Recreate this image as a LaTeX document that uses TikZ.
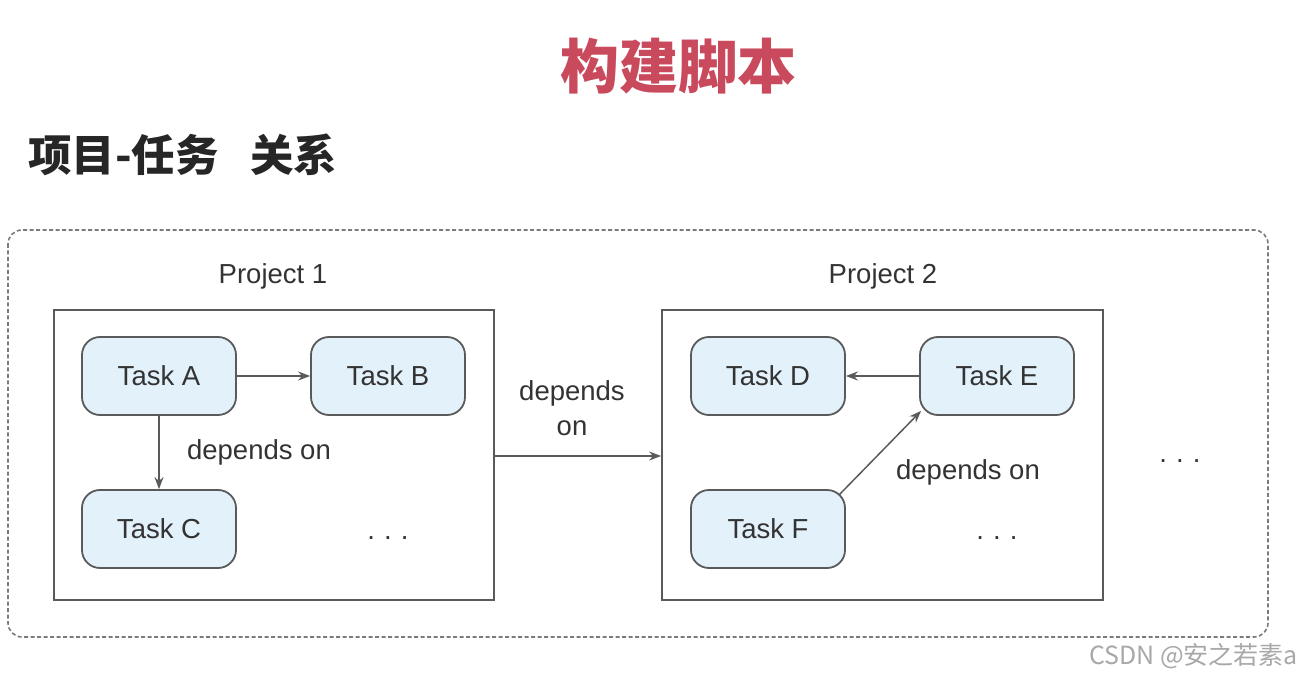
\documentclass[tikz,border=0pt]{standalone}
\usepackage{fontspec}
\setmainfont{Liberation Sans}
\newfontfamily\cjk{Noto Sans CJK SC}
\usetikzlibrary{arrows.meta,calc}
\definecolor{titlered}{HTML}{C94A5C}
\definecolor{taskfill}{HTML}{E3F1FB}
\definecolor{linegray}{HTML}{5A5A5A}
\definecolor{txtgray}{HTML}{333333}
\definecolor{wmgray}{HTML}{A8A8A8}
\tikzset{
  taskbox/.style={draw=linegray, line width=1.8pt, fill=taskfill, rounded corners=18pt,
    minimum width=154pt, minimum height=78pt, inner sep=0pt, text=txtgray,
    font=\fontsize{27.5}{32}\selectfont},
  projbox/.style={draw=linegray, line width=1.8pt},
  lbl/.style={text=txtgray, font=\fontsize{27.5}{34}\selectfont, inner sep=0pt, align=center},
  dep/.style={draw=linegray, line width=1.5pt, -{Stealth[length=12pt,width=9pt]}}
}
\begin{document}
\begin{tikzpicture}[x=1pt,y=-1pt]
\useasboundingbox (0,0) rectangle (1302,676);
\fill[white] (0,0) rectangle (1302,676);
% titles
\node[text=titlered, inner sep=0pt] (title) at (678,66) {\cjk\bfseries\fontsize{59}{64}\selectfont 构建脚本};
\node[anchor=west, text=black!85, inner sep=0pt] (sub) at (28,155) {\cjk\bfseries\fontsize{43.5}{48}\selectfont 项目-任务\hspace{0.72em}关系};
% outer dashed frame
\draw[linegray!80, line width=1.6pt, dash pattern=on 4pt off 2.5pt, rounded corners=14pt] (8,230) rectangle (1268,637);
% projects
\node[lbl] (p1lbl) at (273,276) {Project 1};
\node[lbl] (p2lbl) at (883,276) {Project 2};
\node[projbox, minimum width=440pt, minimum height=290pt, inner sep=0pt] (P1) at (274,455) {};
\node[projbox, minimum width=441pt, minimum height=290pt, inner sep=0pt] (P2) at (882.5,455) {};
% tasks
\node[taskbox] (A) at (159,376) {Task A};
\node[taskbox] (B) at (388,376) {Task B};
\node[taskbox] (C) at (159,529) {Task C};
\node[taskbox] (D) at (768,376) {Task D};
\node[taskbox] (E) at (997,376) {Task E};
\node[taskbox] (F) at (768,529) {Task F};
% arrows
\draw[dep] (A) -- (B);
\draw[dep] (A) -- (C);
\draw[dep] (E) -- (D);
\draw[dep] ($(F.north east)+(-7,6)$) -- ($(E.south west)+(2,-5)$);
\draw[dep] (P1.east |- 0,456) -- (P2.west |- 0,456);
% labels
\node[lbl] (dl1) at (259,452) {depends on};
\node[lbl] (dl2) at (572,408) {depends\\[1pt]on};
\node[lbl] (dl3) at (968,472) {depends on};
\node[lbl] (dots1) at (388,538) {.\,\,.\,\,.};
\node[lbl] (dots2) at (997,538) {.\,\,.\,\,.};
\node[lbl] (dots3) at (1180,461) {.\,\,.\,\,.};
% watermark
\node[anchor=east, text=wmgray, inner sep=0pt] (wm) at (1298,656) {\cjk\fontsize{25}{28}\selectfont CSDN @安之若素a};
\end{tikzpicture}
\end{document}
